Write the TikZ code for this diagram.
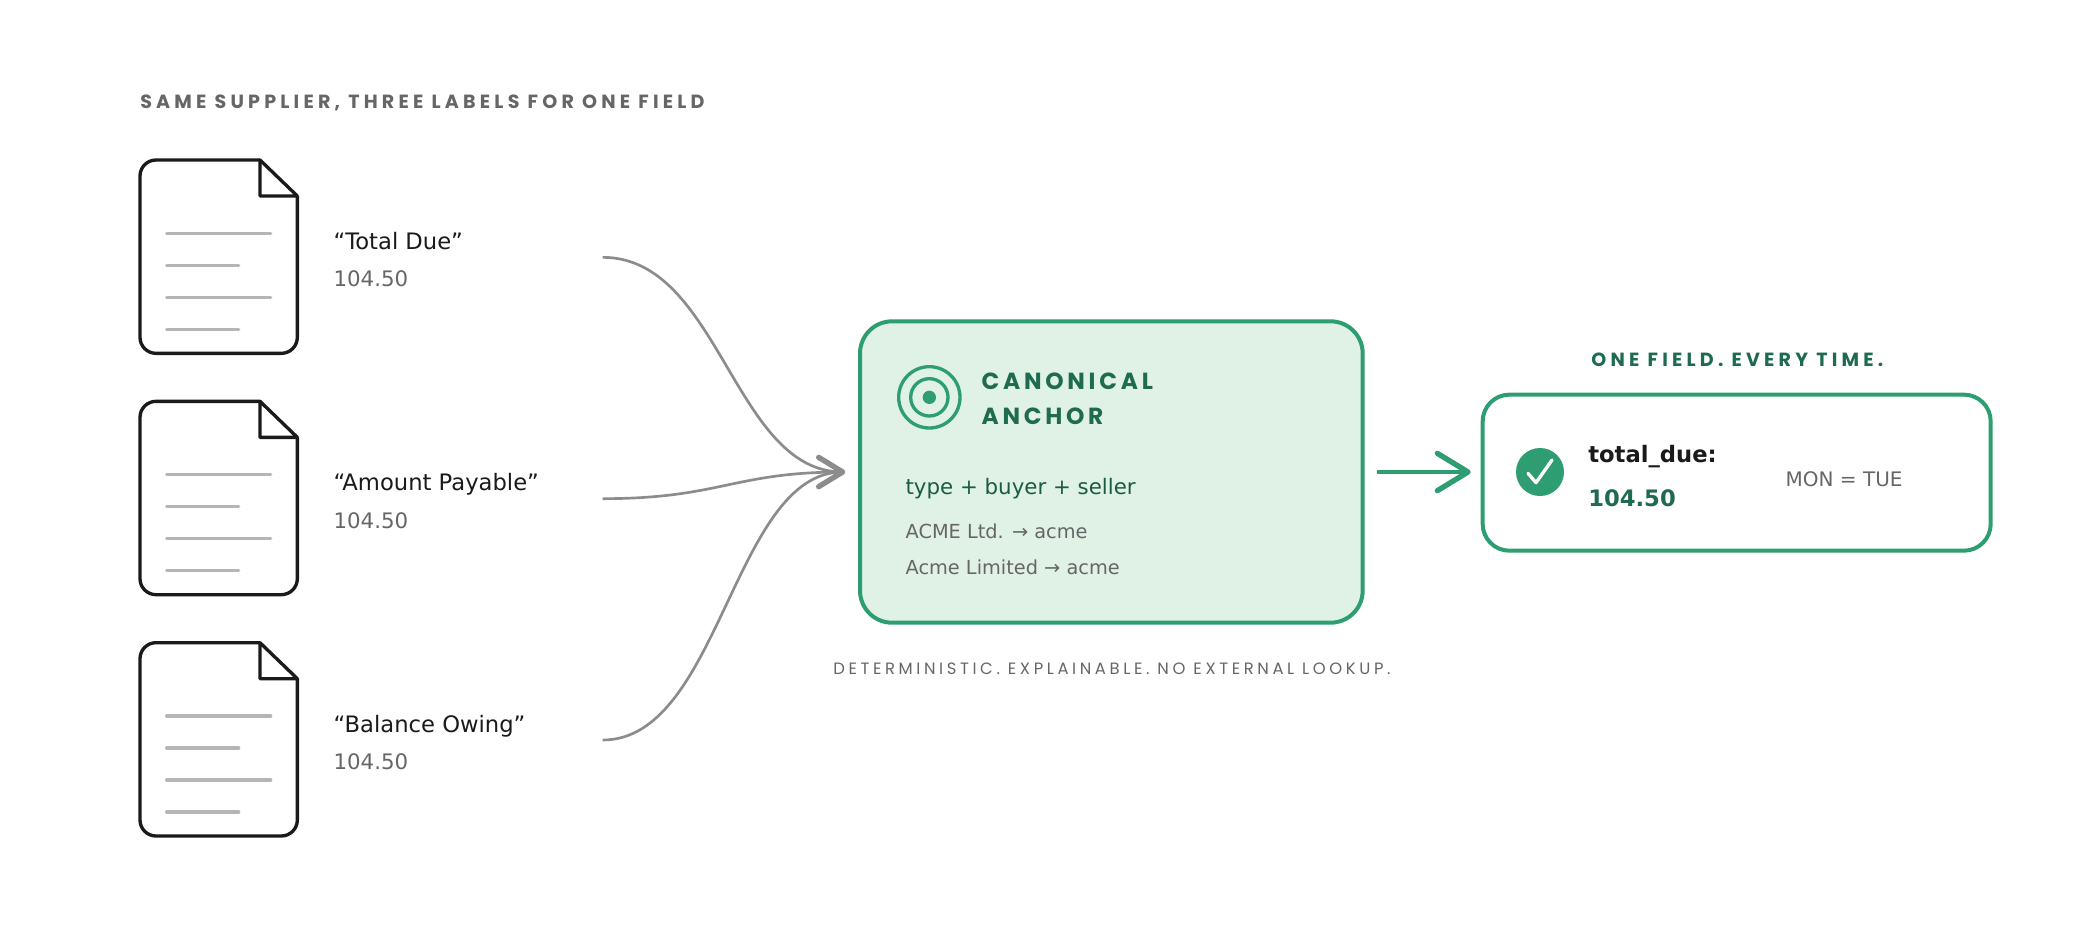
\documentclass[tikz,border=0pt]{standalone}
\usepackage{fontspec}
\setmainfont{DejaVu Sans}
\newfontfamily\pop[LetterSpace=22]{Poppins}
\newfontfamily\popb[LetterSpace=22]{Poppins Bold}
\newfontfamily\popt[LetterSpace=16]{Poppins Bold}
\usetikzlibrary{arrows.meta}
\definecolor{gr}{HTML}{2E9E72}
\definecolor{dg}{HTML}{1F6B50}
\definecolor{fillg}{HTML}{DFF2E5}
\definecolor{tx}{HTML}{1A1A1A}
\definecolor{gy}{HTML}{666666}
\definecolor{ln}{HTML}{B5B5B5}
\definecolor{cv}{HTML}{8C8C8C}
\begin{document}
\begin{tikzpicture}[x=1pt,y=-1pt,
 lab/.style={anchor=base west,inner sep=0,font=\fontsize{17}{20}\selectfont,text=tx},
 val/.style={anchor=base west,inner sep=0,font=\fontsize{16}{20}\selectfont,text=gy},
 curve/.style={cv,line width=2},
 chev/.style={line width=4,line cap=round,line join=round}]
\useasboundingbox (0,0) rectangle (1560,705);
\fill[white] (0,0) rectangle (1560,705);
\node[anchor=base west,inner sep=0,text=gy,font=\popb\fontsize{14.3}{16}\selectfont] (h) at (105,81) {SAME SUPPLIER, THREE LABELS FOR ONE FIELD};
\foreach \y in {120,301,482}{
 \draw[tx,line width=2.5,line join=round,rounded corners=12] (195,\y) -- (105,\y) -- (105,\y+145) -- (223,\y+145) -- (223,\y+27);
 \draw[tx,line width=2.5,line join=round] (195,\y) -- (223,\y+27) -- (195,\y+27) -- cycle;
 \draw[ln,line width=2.5,line cap=round] (125,\y+55) -- (203,\y+55) (125,\y+79) -- (179,\y+79) (125,\y+103) -- (203,\y+103) (125,\y+127) -- (179,\y+127);
}
\node[lab] (l1) at (250,187) {“Total Due”};
\node[val] (v1) at (250,215) {104.50};
\node[lab] (l2) at (250,368) {“Amount Payable”};
\node[val] (v2) at (250,396) {104.50};
\node[lab] (l3) at (250,549) {“Balance Owing”};
\node[val] (v3) at (250,577) {104.50};
\coordinate (s1) at (452,193);
\coordinate (s2) at (452,374);
\coordinate (s3) at (452,555);
\coordinate (t) at (632,354);
\draw[curve] (s1) .. controls (540,193) and (550,354) .. (t);
\draw[curve] (s2) .. controls (540,374) and (550,354) .. (t);
\draw[curve] (s3) .. controls (540,555) and (550,354) .. (t);
\draw[cv,chev] (614,343) -- (632,354) -- (614,365);
\node[draw=gr,line width=3,fill=fillg,rounded corners=24,minimum width=377,minimum height=226,inner sep=0] (c) at (833.5,354) {};
\draw[gr,line width=2.5] (697,298) circle (23) circle (14);
\fill[gr] (697,298) circle (5);
\node[anchor=base west,inner sep=0,text=dg,font=\popt\fontsize{17.5}{20}\selectfont] (t1) at (736,292) {CANONICAL};
\node[anchor=base west,inner sep=0,text=dg,font=\popt\fontsize{17.5}{20}\selectfont] (t2) at (736,318) {ANCHOR};
\node[anchor=base west,inner sep=0,text=dg!85!black,font=\fontsize{16}{20}\selectfont] (f) at (679,371) {type + buyer + seller};
\node[anchor=base west,inner sep=0,text=gy,font=\fontsize{14.5}{18}\selectfont] (a1) at (679,404) {ACME Ltd. → acme};
\node[anchor=base west,inner sep=0,text=gy,font=\fontsize{14.5}{18}\selectfont] (a2) at (679,431) {Acme Limited → acme};
\node[anchor=base,inner sep=0,text=gy,font=\pop\fontsize{12.3}{14}\selectfont] (d) at (834,506) {DETERMINISTIC. EXPLAINABLE. NO EXTERNAL LOOKUP.};
\node[draw=gr,line width=3,fill=white,rounded corners=20,minimum width=381,minimum height=117,inner sep=0] (r) at (1302.5,354.5) {};
\coordinate (gs) at (1033,354);
\draw[gr,line width=3] (gs) -- (1100,354);
\draw[gr,chev] (1078,340) -- (1101,354) -- (1078,368);
\node[anchor=base,inner sep=0,text=dg,font=\popb\fontsize{14.3}{16}\selectfont] (o) at (1303,275) {ONE FIELD. EVERY TIME.};
\fill[gr] (1155,354) circle (18);
\draw[white,line width=2.5,line cap=round,line join=round] (1146,355) -- (1152,362) -- (1164,345);
\node[anchor=base west,inner sep=0,text=tx,font=\bfseries\fontsize{17}{20}\selectfont] (k) at (1191,347) {total\_due:};
\node[anchor=base west,inner sep=0,text=dg,font=\bfseries\fontsize{17}{20}\selectfont] (kv) at (1191,380) {104.50};
\node[anchor=base west,inner sep=0,text=gy,font=\fontsize{15}{18}\selectfont] (m) at (1339,365) {MON = TUE};
\end{tikzpicture}
\end{document}
